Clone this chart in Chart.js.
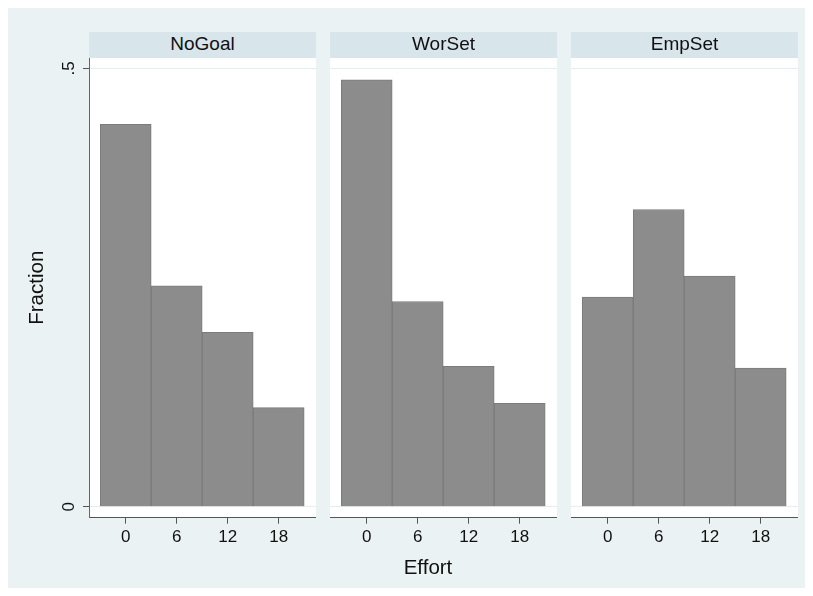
<!DOCTYPE html>
<html>
<head>
<meta charset="utf-8">
<script src="https://cdn.jsdelivr.net/npm/chart.js@4"></script>
<style>
  body { margin: 0; background: #ffffff; width: 813px; height: 596px; position: relative; overflow: hidden; font-family: "Liberation Sans", Arial, sans-serif; }
  #bg { position: absolute; left: 8px; top: 8px; width: 797px; height: 580px; background: #eaf2f3; }
  canvas { position: absolute; top: 0; }
  .strip { position: absolute; top: 32px; height: 25.7px; line-height: 23px; width: 227px; background: #d8e5ea; color: #111; text-align: center; font-size: 19px; z-index: 2; }
  #xtitle { position: absolute; left: 328px; width: 200px; top: 555.5px; line-height: 21px; text-align: center; font-size: 20.5px; color: #111; z-index: 2; }
</style>
</head>
<body>
<div id="bg"></div>
<canvas id="c0" width="316" height="596" style="left:0px"></canvas>
<canvas id="c1" width="227" height="596" style="left:330px"></canvas>
<canvas id="c2" width="227" height="596" style="left:571px"></canvas>
<div class="strip" id="s0" style="left:89px"></div>
<div class="strip" id="s1" style="left:330px"></div>
<div class="strip" id="s2" style="left:571px"></div>
<div id="xtitle"></div>
<script>
// panels and bin values (fraction per bin)
const categories = ["NoGoal", "WorSet", "EmpSet"];
const binCenters = [0, 6, 12, 18];
const noGoal = [0.436, 0.252, 0.199, 0.113];
const worSet = [0.487, 0.234, 0.160, 0.118];
const empSet = [0.239, 0.339, 0.263, 0.158];
const xTickLabels = ["0", "6", "12", "18"];
const yTickValues = [0, 0.5];
const yTickLabels = ["0", ".5"];
const xTitle = "Effort";
const yTitle = "Fraction";

const series = [noGoal, worSet, empSet];

Chart.defaults.font.family = "'Liberation Sans', Arial, sans-serif";
Chart.defaults.color = "#111";

const whiteArea = {
  id: "whiteArea",
  beforeDraw(chart) {
    const a = chart.chartArea;
    const ctx = chart.ctx;
    ctx.save();
    ctx.fillStyle = "#ffffff";
    ctx.fillRect(a.left, a.top, a.right - a.left, a.bottom - a.top);
    ctx.restore();
  }
};

categories.forEach((name, i) => {
  document.getElementById("s" + i).textContent = name;
  const first = i === 0;
  const ctx = document.getElementById("c" + i).getContext("2d");
  new Chart(ctx, {
    type: "bar",
    data: {
      datasets: [{
        data: binCenters.map((x, j) => ({ x: x, y: series[i][j] })),
        backgroundColor: "#8c8c8c",
        borderColor: "#7b7b7b",
        borderWidth: 1,
        barPercentage: 1,
        categoryPercentage: 1
      }]
    },
    options: {
      responsive: false,
      animation: false,
      devicePixelRatio: 1,
      layout: { padding: { top: 57.7, left: 0, right: 0, bottom: 0 } },
      plugins: { legend: { display: false }, tooltip: { enabled: false } },
      scales: {
        x: {
          type: "linear",
          offset: false,
          min: -4.318,
          max: 22.39,
          afterBuildTicks: (s) => { s.ticks = binCenters.map(v => ({ value: v })); },
          afterFit: (s) => { s.height = 78.3; },
          ticks: {
            font: { size: 17 },
            padding: 3,
            maxRotation: 0,
            callback: (v) => xTickLabels[binCenters.indexOf(v)]
          },
          grid: { offset: false, drawOnChartArea: false, drawTicks: true, tickLength: 6, tickColor: "#555" },
          border: { display: true, color: "#555", width: 1 }
        },
        y: {
          min: -0.01255,
          max: 0.5121,
          afterBuildTicks: (s) => { s.ticks = yTickValues.map(v => ({ value: v })); },
          afterFit: (s) => { s.width = first ? 89 : 0; },
          ticks: {
            display: first,
            font: { size: 17 },
            minRotation: 90,
            maxRotation: 90,
            crossAlign: "center",
            padding: 6.5,
            callback: (v) => yTickLabels[yTickValues.indexOf(v)]
          },
          grid: { color: "#e4edf0", lineWidth: 1, drawTicks: first, tickLength: 6, tickColor: "#555" },
          border: { display: first, color: "#666", width: 1 },
          title: {
            display: first,
            text: yTitle,
            font: { size: 20.5 },
            padding: { top: 25.2, bottom: 0 }
          }
        }
      }
    },
    plugins: [whiteArea]
  });
});
document.getElementById("xtitle").textContent = xTitle;
</script>
</body>
</html>
